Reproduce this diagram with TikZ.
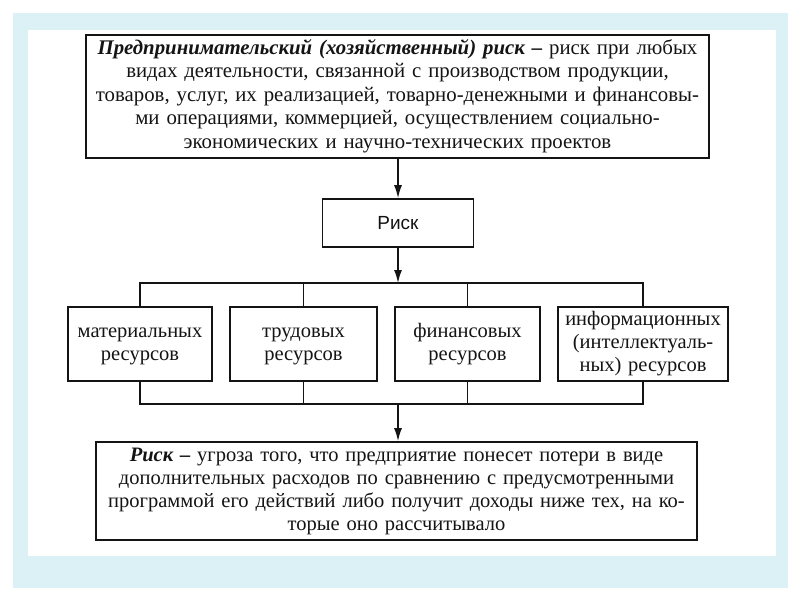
\documentclass[tikz,border=0pt]{standalone}
\usepackage{fontspec}
\setmainfont{Liberation Serif}
\setsansfont{Liberation Sans}
\usetikzlibrary{arrows.meta}
\definecolor{frameblue}{HTML}{DBF1F6}
\definecolor{ink}{HTML}{141414}
\tikzset{
  box/.style={draw=ink, line width=1.6pt, fill=white, align=center, inner sep=0pt, text=ink},
  ln/.style={draw=ink, line width=1.6pt},
  arr/.style={draw=ink, line width=1.6pt, -{Latex[length=13pt,width=8pt]}},
  txt/.style={font=\fontsize{20.8}{23.5}\selectfont},
  rtxt/.style={font=\fontsize{20.5}{23}\selectfont}
}
\begin{document}
\begin{tikzpicture}[x=1pt,y=-1pt]
\useasboundingbox (0,0) rectangle (800,600);
\fill[white] (0,0) rectangle (800,600);
\fill[frameblue] (13,13) rectangle (788,588);
\fill[white] (28,30) rectangle (776,556);

\node[box, txt, minimum width=623pt, minimum height=123pt, text width=621pt] (top) at (397.5,96.5)
 {\strut\textbf{\textit{Предпринимательский (хозяйственный) риск –}} риск при любых\\
 видах деятельности, связанной с производством продукции,\\
 товаров, услуг, их реализацией, товарно-денежными и финансовы-\\
 ми операциями, коммерцией, осуществлением социально-\\
 экономических и научно-технических проектов\strut};

\node[box, minimum width=151pt, minimum height=48pt, font=\sffamily\fontsize{19}{22}\selectfont] (risk) at (398,223) {Риск};

\node[box, rtxt, minimum width=144pt, minimum height=74pt, text width=142pt] (b1) at (140,344) {\strut материальных\\ресурсов\strut};
\node[box, rtxt, minimum width=147pt, minimum height=74pt, text width=145pt] (b2) at (303.5,344) {\strut трудовых\\ресурсов\strut};
\node[box, rtxt, minimum width=145pt, minimum height=74pt, text width=143pt] (b3) at (467.5,344) {\strut финансовых\\ресурсов\strut};
\node[box, rtxt, minimum width=170pt, minimum height=74pt, text width=168pt] (b4) at (643,344) {\strut информационных\\(интеллектуаль-\\ных) ресурсов\strut};

\node[box, rtxt, minimum width=601pt, minimum height=98pt, text width=599pt] (bot) at (396.5,491)
 {\strut\textbf{\textit{Риск –}} угроза того, что предприятие понесет потери в виде\\
 дополнительных расходов по сравнению с предусмотренными\\
 программой его действий либо получит доходы ниже тех, на ко-\\
 торые оно рассчитывало\strut};

\coordinate (busT) at (398,283);
\coordinate (busB) at (398,404);

\draw[arr] (top.south -| risk.north) -- (risk.north);
\draw[arr] (risk.south) -- (busT);
\draw[ln] (b1.north) -- (b1.north |- busT) -- (b4.north |- busT) -- (b4.north);
\draw[ln] (b2.north) -- (b2.north |- busT);
\draw[ln] (b3.north) -- (b3.north |- busT);
\draw[ln] (b1.south) -- (b1.south |- busB) -- (b4.south |- busB) -- (b4.south);
\draw[ln] (b2.south) -- (b2.south |- busB);
\draw[ln] (b3.south) -- (b3.south |- busB);
\draw[arr] (busB) -- (busB |- bot.north);
\end{tikzpicture}
\end{document}
